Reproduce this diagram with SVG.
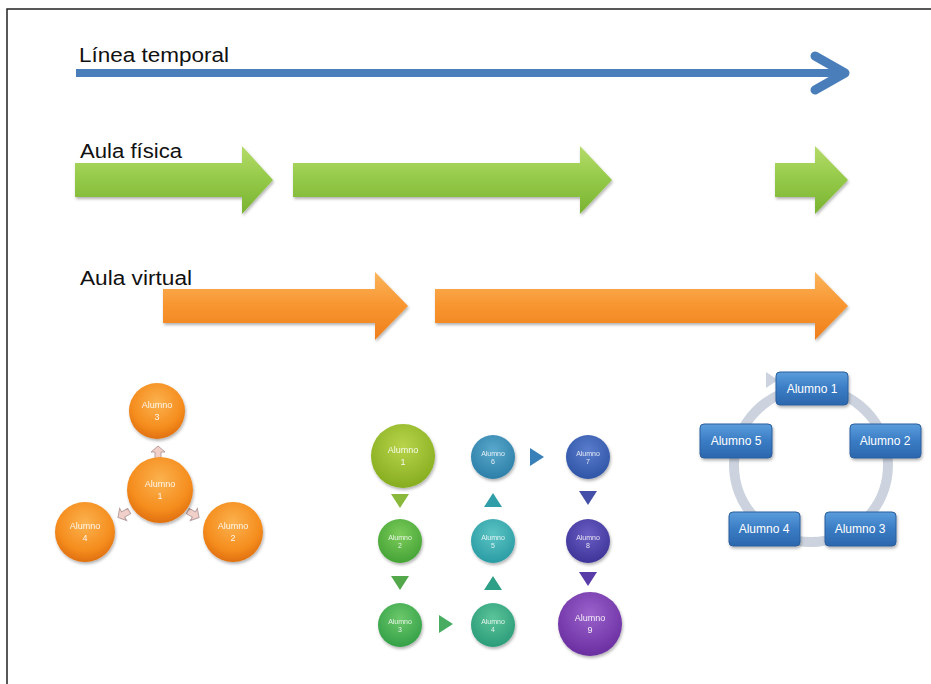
<svg xmlns="http://www.w3.org/2000/svg" width="931" height="684" viewBox="0 0 931 684">
<defs>
  <linearGradient id="gGreen" x1="0" y1="0" x2="0" y2="1">
    <stop offset="0" stop-color="#b5db6a"/>
    <stop offset="0.5" stop-color="#93c947"/>
    <stop offset="1" stop-color="#7ab232"/>
  </linearGradient>
  <linearGradient id="gOrange" x1="0" y1="0" x2="0" y2="1">
    <stop offset="0" stop-color="#fbb45c"/>
    <stop offset="0.5" stop-color="#f8952f"/>
    <stop offset="1" stop-color="#ee7f1c"/>
  </linearGradient>
  <linearGradient id="gBox" x1="0" y1="0" x2="0" y2="1">
    <stop offset="0" stop-color="#5b9ddc"/>
    <stop offset="0.5" stop-color="#3a7cc4"/>
    <stop offset="1" stop-color="#2c67ad"/>
  </linearGradient>
  <radialGradient id="rOr" cx="0.5" cy="0.35" r="0.65">
    <stop offset="0" stop-color="#fbb24e"/>
    <stop offset="0.7" stop-color="#f58d1e"/>
    <stop offset="1" stop-color="#e0700f"/>
  </radialGradient>
  <radialGradient id="r1" cx="0.5" cy="0.35" r="0.65"><stop offset="0" stop-color="#b8d44a"/><stop offset="1" stop-color="#86ad1f"/></radialGradient>
  <radialGradient id="r2" cx="0.5" cy="0.35" r="0.65"><stop offset="0" stop-color="#7ccc5a"/><stop offset="1" stop-color="#45a336"/></radialGradient>
  <radialGradient id="r3" cx="0.5" cy="0.35" r="0.65"><stop offset="0" stop-color="#6cc86a"/><stop offset="1" stop-color="#34a048"/></radialGradient>
  <radialGradient id="r4" cx="0.5" cy="0.35" r="0.65"><stop offset="0" stop-color="#5cc49a"/><stop offset="1" stop-color="#2a9c78"/></radialGradient>
  <radialGradient id="r5" cx="0.5" cy="0.35" r="0.65"><stop offset="0" stop-color="#5cc4c4"/><stop offset="1" stop-color="#2a9ca4"/></radialGradient>
  <radialGradient id="r6" cx="0.5" cy="0.35" r="0.65"><stop offset="0" stop-color="#5aa8cc"/><stop offset="1" stop-color="#2c7fa8"/></radialGradient>
  <radialGradient id="r7" cx="0.5" cy="0.35" r="0.65"><stop offset="0" stop-color="#5a7ccc"/><stop offset="1" stop-color="#2f55a6"/></radialGradient>
  <radialGradient id="r8" cx="0.5" cy="0.35" r="0.65"><stop offset="0" stop-color="#6a5ec4"/><stop offset="1" stop-color="#3e3498"/></radialGradient>
  <radialGradient id="r9" cx="0.5" cy="0.35" r="0.65"><stop offset="0" stop-color="#9a62cc"/><stop offset="1" stop-color="#6a2ea0"/></radialGradient>
  <filter id="sh" x="-20%" y="-20%" width="140%" height="150%">
    <feDropShadow dx="1" dy="2" stdDeviation="1.5" flood-color="#000" flood-opacity="0.3"/>
  </filter>
</defs>
<style>
  .lbl { font-family: "Liberation Sans", Arial, sans-serif; font-size: 20px; fill: #111111; }
  .sm { font-family: "Liberation Sans", Arial, sans-serif; font-size: 7px; fill: #ffffff; fill-opacity: 0.85; text-anchor: middle; }
  .md { font-family: "Liberation Sans", Arial, sans-serif; font-size: 9px; fill: #ffffff; fill-opacity: 0.9; text-anchor: middle; }
  .bx { font-family: "Liberation Sans", Arial, sans-serif; font-size: 12px; fill: #ffffff; text-anchor: middle; }
  .box { fill: url(#gBox); stroke: #2a5f9e; stroke-width: 1; filter: url(#sh); }
  .ball { filter: url(#sh); }
</style>
<rect width="931" height="684" fill="#ffffff"/>
<path d="M7 684 V9 H931" fill="none" stroke="#222" stroke-width="1.5"/>

<!-- timeline -->
<g id="timeline">
  <line x1="76" y1="73" x2="843" y2="73" stroke="#4a7ebb" stroke-width="8"/>
  <polyline points="815,56 845,73 815,90" fill="none" stroke="#4a7ebb" stroke-width="9" stroke-linecap="round" stroke-linejoin="round"/>
  <text class="lbl" x="79" y="62" textLength="150" lengthAdjust="spacingAndGlyphs">Línea temporal</text>
</g>

<!-- Aula fisica -->
<g id="aula-fisica">
  <g filter="url(#sh)" fill="url(#gGreen)">
    <polygon points="75,163 242,163 242,146 273,180 242,214 242,197 75,197"/>
    <polygon points="293,163 580,163 580,146 612,180 580,214 580,197 293,197"/>
    <polygon points="775,163 815,163 815,146 848,180 815,214 815,197 775,197"/>
  </g>
  <text class="lbl" x="80" y="158" textLength="102" lengthAdjust="spacingAndGlyphs">Aula física</text>
</g>

<!-- Aula virtual -->
<g id="aula-virtual">
  <g filter="url(#sh)" fill="url(#gOrange)">
    <polygon points="163,289 375,289 375,272 408,306 375,340 375,323 163,323"/>
    <polygon points="435,289 815,289 815,272 848,306 815,340 815,323 435,323"/>
  </g>
  <text class="lbl" x="80" y="285" textLength="112" lengthAdjust="spacingAndGlyphs">Aula virtual</text>
</g>

<!-- Orange radial cluster -->
<g id="connectors-radial" fill="#f0d0c8" stroke="#b8a0a0" stroke-width="1">
  <polygon points="158,446 165,452 161,452 161,459 155,459 155,452 151,452"/>
  <polygon transform="rotate(-120 124 514)" points="124,507 131,513 127,513 127,520 121,520 121,513 117,513"/>
  <polygon transform="rotate(120 193 514)" points="193,507 200,513 196,513 196,520 190,520 190,513 186,513"/>
</g>
<g id="o-alumno3" class="ball"><circle cx="157" cy="411" r="28" fill="url(#rOr)"/><text class="md" x="157" y="408">Alumno</text><text class="md" x="157" y="420">3</text></g>
<g id="o-alumno1" class="ball"><circle cx="160" cy="490" r="33" fill="url(#rOr)"/><text class="md" x="160" y="487">Alumno</text><text class="md" x="160" y="499">1</text></g>
<g id="o-alumno4" class="ball"><circle cx="85" cy="532" r="30" fill="url(#rOr)"/><text class="md" x="85" y="529">Alumno</text><text class="md" x="85" y="541">4</text></g>
<g id="o-alumno2" class="ball"><circle cx="233" cy="532" r="30" fill="url(#rOr)"/><text class="md" x="233" y="529">Alumno</text><text class="md" x="233" y="541">2</text></g>

<!-- Grid process -->
<g id="connectors-grid">
  <polygon points="391,494 409,494 400,508" fill="#8ab83a"/>
  <polygon points="391,576 409,576 400,590" fill="#52a84a"/>
  <polygon points="439,615 439,633 453,624" fill="#48ad60"/>
  <polygon points="484,590 502,590 493,576" fill="#2fa088"/>
  <polygon points="484,507 502,507 493,493" fill="#2f9ea8"/>
  <polygon points="530,448 530,466 544,457" fill="#3a80b8"/>
  <polygon points="579,491 597,491 588,505" fill="#4450a8"/>
  <polygon points="579,572 597,572 588,586" fill="#5a3ca8"/>
</g>
<g id="g-alumno1" class="ball"><circle cx="403" cy="456" r="32" fill="url(#r1)"/><text class="md" x="403" y="453">Alumno</text><text class="md" x="403" y="465">1</text></g>
<g id="g-alumno2" class="ball"><circle cx="400" cy="541" r="22" fill="url(#r2)"/><text class="sm" x="400" y="540">Alumno</text><text class="sm" x="400" y="548">2</text></g>
<g id="g-alumno3" class="ball"><circle cx="400" cy="625" r="22" fill="url(#r3)"/><text class="sm" x="400" y="624">Alumno</text><text class="sm" x="400" y="632">3</text></g>
<g id="g-alumno4" class="ball"><circle cx="493" cy="625" r="22" fill="url(#r4)"/><text class="sm" x="493" y="624">Alumno</text><text class="sm" x="493" y="632">4</text></g>
<g id="g-alumno5" class="ball"><circle cx="493" cy="541" r="22" fill="url(#r5)"/><text class="sm" x="493" y="540">Alumno</text><text class="sm" x="493" y="548">5</text></g>
<g id="g-alumno6" class="ball"><circle cx="493" cy="457" r="22" fill="url(#r6)"/><text class="sm" x="493" y="456">Alumno</text><text class="sm" x="493" y="464">6</text></g>
<g id="g-alumno7" class="ball"><circle cx="588" cy="457" r="22" fill="url(#r7)"/><text class="sm" x="588" y="456">Alumno</text><text class="sm" x="588" y="464">7</text></g>
<g id="g-alumno8" class="ball"><circle cx="588" cy="541" r="22" fill="url(#r8)"/><text class="sm" x="588" y="540">Alumno</text><text class="sm" x="588" y="548">8</text></g>
<g id="g-alumno9" class="ball"><circle cx="590" cy="624" r="32" fill="url(#r9)"/><text class="md" x="590" y="621">Alumno</text><text class="md" x="590" y="633">9</text></g>

<!-- Cycle -->
<g id="connectors-cycle">
  <circle cx="811" cy="465" r="77" fill="none" stroke="#ccd3de" stroke-width="10"/>
  <polygon points="766,372 778,380 766,388" fill="#ccd3de"/>
</g>
<g id="c-alumno1"><rect class="box" x="776" y="372" width="72" height="33" rx="4"/><text class="bx" x="812" y="393">Alumno 1</text></g>
<g id="c-alumno2"><rect class="box" x="850" y="424" width="71" height="34" rx="4"/><text class="bx" x="885" y="445">Alumno 2</text></g>
<g id="c-alumno3"><rect class="box" x="825" y="512" width="71" height="34" rx="4"/><text class="bx" x="860" y="533">Alumno 3</text></g>
<g id="c-alumno4"><rect class="box" x="729" y="512" width="71" height="34" rx="4"/><text class="bx" x="764" y="533">Alumno 4</text></g>
<g id="c-alumno5"><rect class="box" x="700" y="424" width="72" height="34" rx="4"/><text class="bx" x="736" y="445">Alumno 5</text></g>
</svg>
